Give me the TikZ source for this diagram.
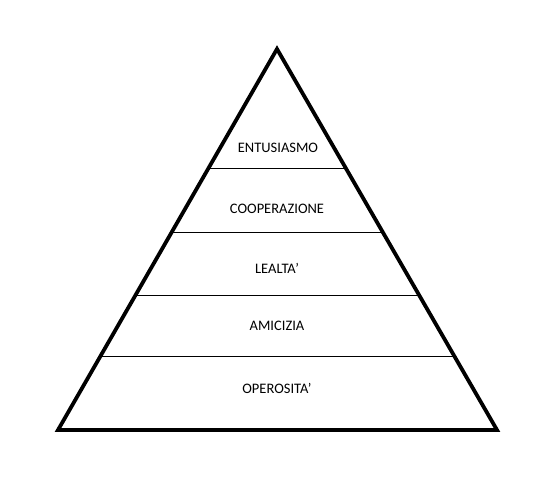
\documentclass[tikz,border=0pt]{standalone}
\usepackage{fontspec}
\setmainfont{Carlito}
\usetikzlibrary{calc}
\begin{document}
\begin{tikzpicture}[x=1pt,y=-1pt,
  outline/.style={draw=black,line width=3.8pt,line join=miter},
  divider/.style={draw=black,line width=1pt},
  label/.style={font=\fontsize{14.5}{17}\selectfont,inner sep=0pt,anchor=center}]
\useasboundingbox (0,0) rectangle (558,489);
\coordinate (A) at (277,49);
\coordinate (L) at (58,430);
\coordinate (R) at (497,430);
\draw[outline] (A) -- (L) -- (R) -- cycle;
\foreach \yy/\nm in {169/a,233/b,296/c,357/d}{
  \pgfmathsetmacro{\t}{(\yy-49)/381}
  \coordinate (\nm l) at ($(A)!\t!(L)$);
  \coordinate (\nm r) at ($(A)!\t!(R)$);
  \draw[divider] (\nm l) -- (\nm r);
}
\node[label] (t1) at (278,148) {ENTUSIASMO};
\node[label] (t2) at (277,209) {COOPERAZIONE};
\node[label] (t3) at (277,268) {LEALTA’};
\node[label] (t4) at (277,326) {AMICIZIA};
\node[label] (t5) at (277,388) {OPEROSITA’};
\end{tikzpicture}
\end{document}
